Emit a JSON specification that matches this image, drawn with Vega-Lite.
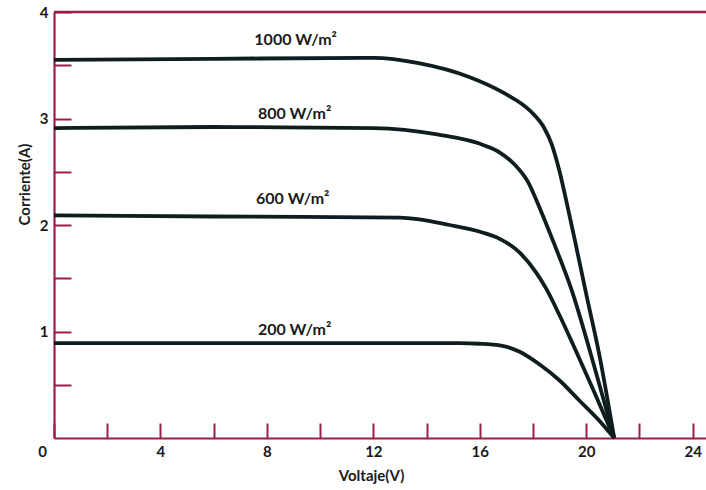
{
  "$schema": "https://vega.github.io/schema/vega-lite/v6.json",
  "width": 652,
  "height": 426,
  "autosize": "none",
  "padding": {"left": 54, "top": 12, "right": 0, "bottom": 52},
  "background": "white",
  "config": {
    "view": {"stroke": null},
    "axis": {
      "grid": false,
      "domainColor": "#9b1d4c",
      "domainWidth": 2.2,
      "tickColor": "#9b1d4c",
      "tickWidth": 2,
      "labelFont": "Lato",
      "labelFontWeight": "bold",
      "labelFontSize": 15,
      "labelColor": "#1a1a1a",
      "titleFont": "Lato",
      "titleFontWeight": "bold",
      "titleFontSize": 15,
      "titleColor": "#1a1a1a",
      "labelFlush": false,
      "labelOverlap": false
    }
  },
  "datasets": {
    "curves": [
      {"irr": "1000", "V": 0, "I": 3.55},
      {"irr": "1000", "V": 6, "I": 3.56},
      {"irr": "1000", "V": 12, "I": 3.57},
      {"irr": "1000", "V": 13.7, "I": 3.52},
      {"irr": "1000", "V": 15.6, "I": 3.39},
      {"irr": "1000", "V": 16.9, "I": 3.24},
      {"irr": "1000", "V": 17.9, "I": 3.07},
      {"irr": "1000", "V": 18.4, "I": 2.92},
      {"irr": "1000", "V": 18.7, "I": 2.76},
      {"irr": "1000", "V": 19.0, "I": 2.50},
      {"irr": "1000", "V": 19.3, "I": 2.17},
      {"irr": "1000", "V": 19.57, "I": 1.86},
      {"irr": "1000", "V": 20.0, "I": 1.35},
      {"irr": "1000", "V": 20.5, "I": 0.77},
      {"irr": "1000", "V": 21.05, "I": 0},
      {"irr": "800", "V": 0, "I": 2.91},
      {"irr": "800", "V": 6, "I": 2.92},
      {"irr": "800", "V": 12, "I": 2.91},
      {"irr": "800", "V": 14.4, "I": 2.85},
      {"irr": "800", "V": 16.25, "I": 2.74},
      {"irr": "800", "V": 16.75, "I": 2.68},
      {"irr": "800", "V": 17.3, "I": 2.57},
      {"irr": "800", "V": 17.8, "I": 2.41},
      {"irr": "800", "V": 18.3, "I": 2.13},
      {"irr": "800", "V": 18.8, "I": 1.82},
      {"irr": "800", "V": 19.45, "I": 1.39},
      {"irr": "800", "V": 20.1, "I": 0.85},
      {"irr": "800", "V": 20.55, "I": 0.45},
      {"irr": "800", "V": 21.05, "I": 0},
      {"irr": "600", "V": 0, "I": 2.09},
      {"irr": "600", "V": 6, "I": 2.08},
      {"irr": "600", "V": 13, "I": 2.07},
      {"irr": "600", "V": 14.87, "I": 2.0},
      {"irr": "600", "V": 16.1, "I": 1.93},
      {"irr": "600", "V": 16.75, "I": 1.87},
      {"irr": "600", "V": 17.5, "I": 1.74},
      {"irr": "600", "V": 18.1, "I": 1.56},
      {"irr": "600", "V": 18.5, "I": 1.40},
      {"irr": "600", "V": 19.0, "I": 1.15},
      {"irr": "600", "V": 19.5, "I": 0.88},
      {"irr": "600", "V": 20.25, "I": 0.46},
      {"irr": "600", "V": 21.05, "I": 0},
      {"irr": "200", "V": 0, "I": 0.89},
      {"irr": "200", "V": 8, "I": 0.89},
      {"irr": "200", "V": 15.2, "I": 0.89},
      {"irr": "200", "V": 16.0, "I": 0.885},
      {"irr": "200", "V": 16.75, "I": 0.87},
      {"irr": "200", "V": 17.5, "I": 0.81},
      {"irr": "200", "V": 18.25, "I": 0.69},
      {"irr": "200", "V": 19.0, "I": 0.54},
      {"irr": "200", "V": 19.75, "I": 0.35},
      {"irr": "200", "V": 20.5, "I": 0.16},
      {"irr": "200", "V": 21.05, "I": 0}
    ],
    "labels": [
      {"V": 9.08, "I": 3.69, "label": "1000 W/m²"},
      {"V": 9.04, "I": 3.0, "label": "800 W/m²"},
      {"V": 8.97, "I": 2.2, "label": "600 W/m²"},
      {"V": 9.04, "I": 0.97, "label": "200 W/m²"}
    ],
    "top": [{"I": 4}]
  },
  "layer": [
    {
      "data": {"name": "curves"},
      "mark": {"type": "line", "interpolate": "monotone", "color": "#0f1d1f", "strokeWidth": 3.8},
      "encoding": {
        "x": {
          "field": "V", "type": "quantitative",
          "scale": {"domain": [0, 24.5], "nice": false, "zero": false},
          "axis": {
            "title": "Voltaje(V)",
            "values": [0, 2, 4, 6, 8, 10, 12, 14, 16, 18, 20, 22, 24],
            "labelExpr": "datum.value % 4 === 0 ? datum.label : ''",
            "tickSize": -15,
            "labelPadding": 21,
            "labelOffset": {"condition": {"test": "datum.value === 0", "value": -12}, "value": 0},
            "titleX": 317,
            "titleY": 42,
            "titleAlign": "center",
            "titleBaseline": "alphabetic"
          }
        },
        "y": {
          "field": "I", "type": "quantitative",
          "scale": {"domain": [0, 4], "nice": false},
          "axis": {
            "title": "Corriente(A)",
            "values": [0.5, 1, 1.5, 2, 2.5, 3, 3.5, 4],
            "labelExpr": "datum.value % 1 === 0 ? format(datum.value, 'd') : ''",
            "tickSize": -17,
            "labelPadding": 23,
            "titleAngle": -90,
            "titleX": -30,
            "titleY": 172,
            "titleAlign": "center",
            "titleBaseline": "middle"
          }
        },
        "detail": {"field": "irr", "type": "nominal"}
      }
    },
    {
      "data": {"name": "top"},
      "mark": {"type": "rule", "color": "#9b1d4c", "strokeWidth": 2.5},
      "encoding": {"y": {"field": "I", "type": "quantitative"}}
    },
    {
      "data": {"name": "labels"},
      "mark": {"type": "text", "font": "Lato", "fontWeight": "bold", "fontSize": 16, "color": "#1a1a1a", "align": "center", "baseline": "alphabetic"},
      "encoding": {
        "x": {"field": "V", "type": "quantitative"},
        "y": {"field": "I", "type": "quantitative"},
        "text": {"field": "label"}
      }
    }
  ]
}
